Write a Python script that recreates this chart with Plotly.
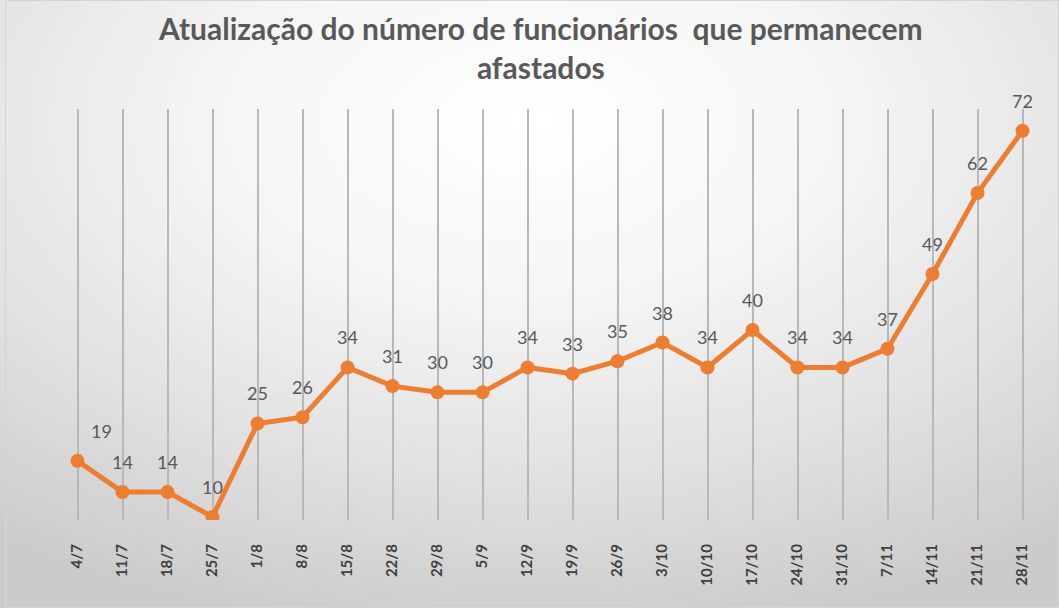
import plotly.graph_objects as go
import base64

categories = ["4/7", "11/7", "18/7", "25/7", "1/8", "8/8", "15/8", "22/8", "29/8", "5/9",
              "12/9", "19/9", "26/9", "3/10", "10/10", "17/10", "24/10", "31/10", "7/11",
              "14/11", "21/11", "28/11"]
values = [19, 14, 14, 10, 25, 26, 34, 31, 30, 30, 34, 33, 35, 38, 34, 40, 34, 34, 37, 49, 62, 72]
label_xshift = [24] + [0] * 21

title_text = "Atualização do número de funcionários  que permanecem<br>afastados"

W, H = 1059, 608
L, R, T, B = 55, 14, 109, 88
pw, ph = W - L - R, H - T - B

svg = f'''<svg xmlns="http://www.w3.org/2000/svg" width="{W}" height="{H}">
<defs><radialGradient id="g" cx="50%" cy="20%" r="85%" fx="50%" fy="20%">
<stop offset="0" stop-color="#ffffff"/>
<stop offset="0.35" stop-color="#f5f5f5"/>
<stop offset="0.7" stop-color="#e0e0e0"/>
<stop offset="1" stop-color="#cbcbcb"/>
</radialGradient></defs>
<rect width="{W}" height="{H}" fill="url(#g)"/>
<rect x="5.5" y="0.5" width="{W - 6}" height="{H - 1}" fill="none" stroke="#d4d4d4" stroke-width="1"/>
</svg>'''
src = "data:image/svg+xml;base64," + base64.b64encode(svg.encode()).decode()

fig = go.Figure()
fig.add_trace(go.Scatter(
    x=categories, y=values, mode="lines+markers",
    line=dict(color="#ED7D31", width=5),
    marker=dict(color="#ED7D31", size=14),
    hoverinfo="skip", showlegend=False,
))

for c, v, dx in zip(categories, values, label_xshift):
    fig.add_annotation(x=c, y=v, xref="x", yref="y", text=str(v), showarrow=False,
                       yshift=30, xshift=dx,
                       font=dict(family="Lato", size=18, color="#595959"))

fig.add_annotation(x=(540 - L) / pw, y=1 + (T - 8) / ph, xref="paper", yref="paper",
                   text=title_text, showarrow=False, yanchor="top", xanchor="center",
                   font=dict(family="Lato", size=30, color="#595959", weight="bold"))

fig.add_layout_image(dict(source=src, xref="paper", yref="paper",
                          x=-L / pw, y=1 + T / ph, sizex=W / pw, sizey=H / ph,
                          xanchor="left", yanchor="top", sizing="stretch", layer="below"))

fig.update_layout(
    width=W, height=H,
    margin=dict(l=L, r=R, t=T, b=B),
    paper_bgcolor="#ececec", plot_bgcolor="rgba(0,0,0,0)",
    xaxis=dict(type="category", range=[-0.5, 21.5], showgrid=True, gridcolor="#b8b8b8",
               gridwidth=1.5, tickangle=-90, ticks="", showline=False, zeroline=False,
               ticklabelstandoff=20,
               tickfont=dict(family="Lato", size=15, color="#404040", weight="bold")),
    yaxis=dict(range=[9.5, 75.5], showgrid=False, showticklabels=False, zeroline=False,
               showline=False, ticks=""),
)

fig.write_html("out.html", config={"displayModeBar": False},
               post_script="document.body.style.margin='0';")
